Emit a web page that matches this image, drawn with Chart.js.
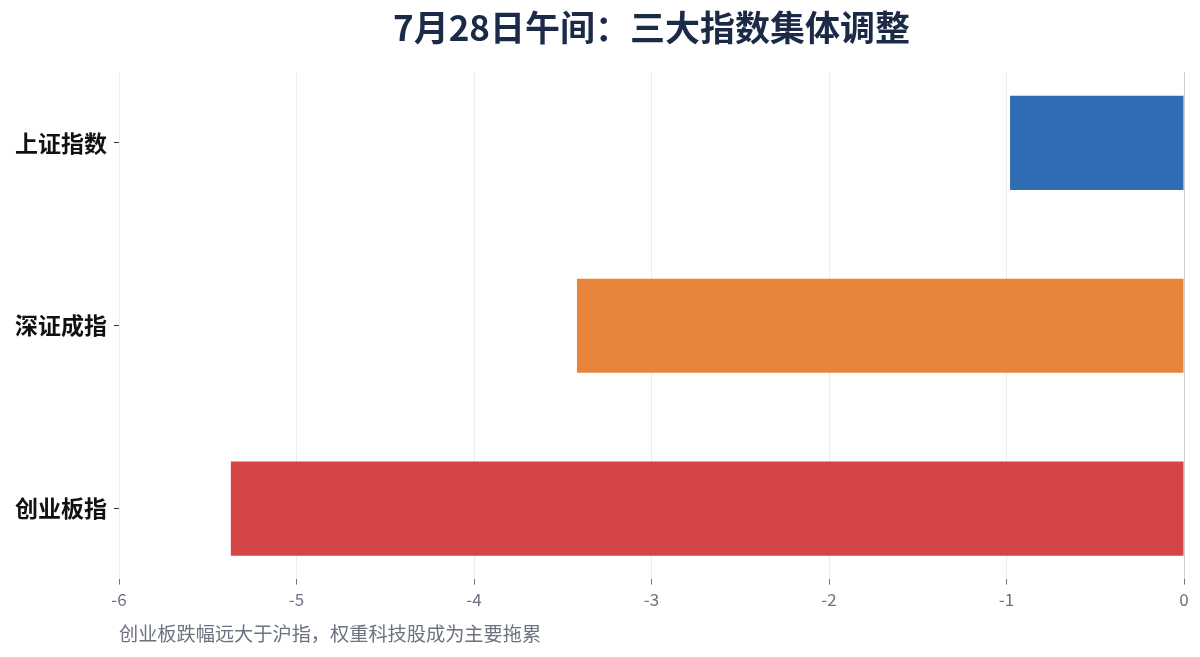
<!DOCTYPE html>
<html>
<head>
<meta charset="utf-8">
<script src="https://cdn.jsdelivr.net/npm/chart.js@4"></script>
<style>
  html, body { margin: 0; padding: 0; background: #fff; }
  #wrap { width: 1200px; height: 657px; }
</style>
</head>
<body>
<div id="wrap"><canvas id="chart" width="1200" height="657"></canvas></div>
<script>
const titleText = "7月28日午间：三大指数集体调整";
const captionText = "创业板跌幅远大于沪指，权重科技股成为主要拖累";
const categories = ["上证指数", "深证成指", "创业板指"];
const changes = [-0.98, -3.42, -5.37]; // 午间涨跌幅 %
const barColors = ["#2e6db4", "#e8833a", "#d64545"];
const xTicks = [-6, -5, -4, -3, -2, -1, 0];

const FONT = "'Noto Sans CJK SC', 'Noto Sans', sans-serif";

// title + caption drawn over the plot area
const textPlugin = {
  id: "texts",
  afterDraw(chart) {
    const { ctx, chartArea } = chart;
    ctx.save();
    ctx.fillStyle = "#1b2a47";
    ctx.font = "bold 35px " + FONT;
    ctx.textAlign = "center";
    ctx.textBaseline = "middle";
    ctx.fillText(titleText, (chartArea.left + chartArea.right) / 2, 28);
    ctx.fillStyle = "#6b7280";
    ctx.font = "19.2px " + FONT;
    ctx.textAlign = "left";
    ctx.fillText(captionText, chartArea.left, 634);
    ctx.restore();
  }
};

new Chart(document.getElementById("chart").getContext("2d"), {
  type: "bar",
  data: {
    datasets: [{
      data: changes.map((v, i) => ({ x: v, y: i })),
      backgroundColor: barColors,
      borderWidth: 0,
      barPercentage: 0.515,
      categoryPercentage: 1
    }]
  },
  options: {
    indexAxis: "y",
    responsive: false,
    animation: false,
    layout: { padding: { top: 72, bottom: 42, left: 8, right: 16 } },
    plugins: { legend: { display: false }, tooltip: { enabled: false }, title: { display: false } },
    scales: {
      x: {
        type: "linear",
        min: -6,
        max: 0,
        afterBuildTicks: (scale) => { scale.ticks = xTicks.map(v => ({ value: v })); },
        grid: {
          color: (c) => c.tick && c.tick.value === 0 ? "#cfcfcf" : "#ececec",
          tickColor: "#6b7280",
          tickLength: 6
        },
        border: { display: false },
        ticks: { color: "#6b7280", padding: 5, font: { family: FONT, size: 17 } }
      },
      y: {
        type: "linear",
        reverse: true,
        offset: false,
        min: -0.388,
        max: 2.383,
        afterBuildTicks: (scale) => { scale.ticks = categories.map((_, i) => ({ value: i })); },
        grid: { offset: false, drawOnChartArea: false, tickColor: "#333", tickLength: 5 },
        border: { display: false },
        ticks: {
          color: "#111",
          padding: 7,
          font: { family: FONT, size: 23, weight: "bold" },
          callback: (v) => categories[v]
        }
      }
    }
  },
  plugins: [textPlugin]
});
</script>
</body>
</html>
